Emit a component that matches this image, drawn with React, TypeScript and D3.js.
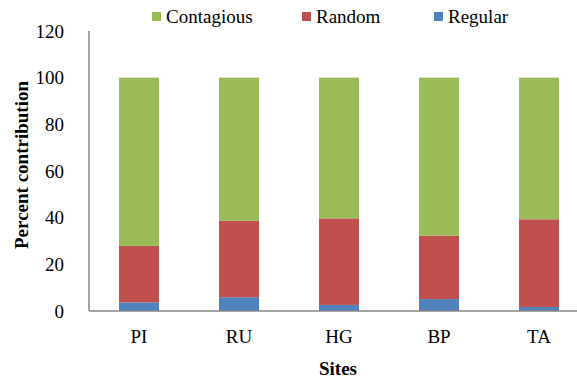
import React from "react";
import * as d3 from "d3";

const sites = ["PI", "RU", "HG", "BP", "TA"];
const regular = [3.7, 5.9, 2.6, 5.1, 1.7];
const random = [24.2, 32.8, 37.1, 27.2, 37.6];
const contagious = [72.1, 61.3, 60.3, 67.7, 60.7];
const yTicks = [0, 20, 40, 60, 80, 100, 120];

const seriesNames = ["Regular", "Random", "Contagious"];
const seriesColors = ["#4f81bd", "#c0504d", "#9bbb59"];
const legendOrder = [2, 1, 0];

const W = 577;
const H = 383;
const FONT = "Liberation Serif, Times New Roman, DejaVu Serif, serif";

export default function App() {
  const left = 89;
  const top = 31;
  const bottom = 311;
  const x = d3.scaleBand<string>().domain(sites).range([left, left + 500]).paddingInner(0.6).paddingOuter(0.3);
  const y = d3.scaleLinear().domain([0, 120]).range([bottom, top]);

  const rows = sites.map((s, i) => ({ site: s, Regular: regular[i], Random: random[i], Contagious: contagious[i] }));
  const stacked = d3.stack<any>().keys(seriesNames)(rows);

  const legendX = [152, 302, 434];
  const txt = { fontFamily: FONT, fontSize: "19px", fill: "#000" } as React.CSSProperties;

  return (
    <svg width={W} height={H} style={{ position: "absolute", left: 0, top: 0, background: "#fff" }}>
      {stacked.map((layer, si) => (
        <g key={seriesNames[si]} fill={seriesColors[si]}>
          {layer.map((d, i) => (
            <rect
              key={sites[i]}
              x={x(sites[i])}
              y={y(d[1])}
              width={x.bandwidth()}
              height={y(d[0]) - y(d[1])}
            />
          ))}
        </g>
      ))}
      <line x1={left} x2={left} y1={top} y2={bottom} stroke="#868686" strokeWidth={1.5} />
      <line x1={left} x2={W} y1={bottom} y2={bottom} stroke="#868686" strokeWidth={1.5} />
      {yTicks.map((t) => (
        <text key={t} x={64} y={y(t)} dy="0.35em" textAnchor="end" style={txt}>
          {t}
        </text>
      ))}
      {sites.map((s) => (
        <text key={s} x={(x(s) as number) + x.bandwidth() / 2} y={343} textAnchor="middle" style={txt}>
          {s}
        </text>
      ))}
      <text x={338} y={375} textAnchor="middle" style={{ ...txt, fontWeight: "bold" }}>
        Sites
      </text>
      <text transform={`translate(28,165) rotate(-90)`} textAnchor="middle" style={{ ...txt, fontWeight: "bold" }}>
        Percent contribution
      </text>
      {legendOrder.map((si, k) => (
        <g key={seriesNames[si]} transform={`translate(${legendX[k]},0)`}>
          <rect x={0} y={12} width={9} height={9} fill={seriesColors[si]} />
          <text x={14} y={23} style={txt}>
            {seriesNames[si]}
          </text>
        </g>
      ))}
    </svg>
  );
}
